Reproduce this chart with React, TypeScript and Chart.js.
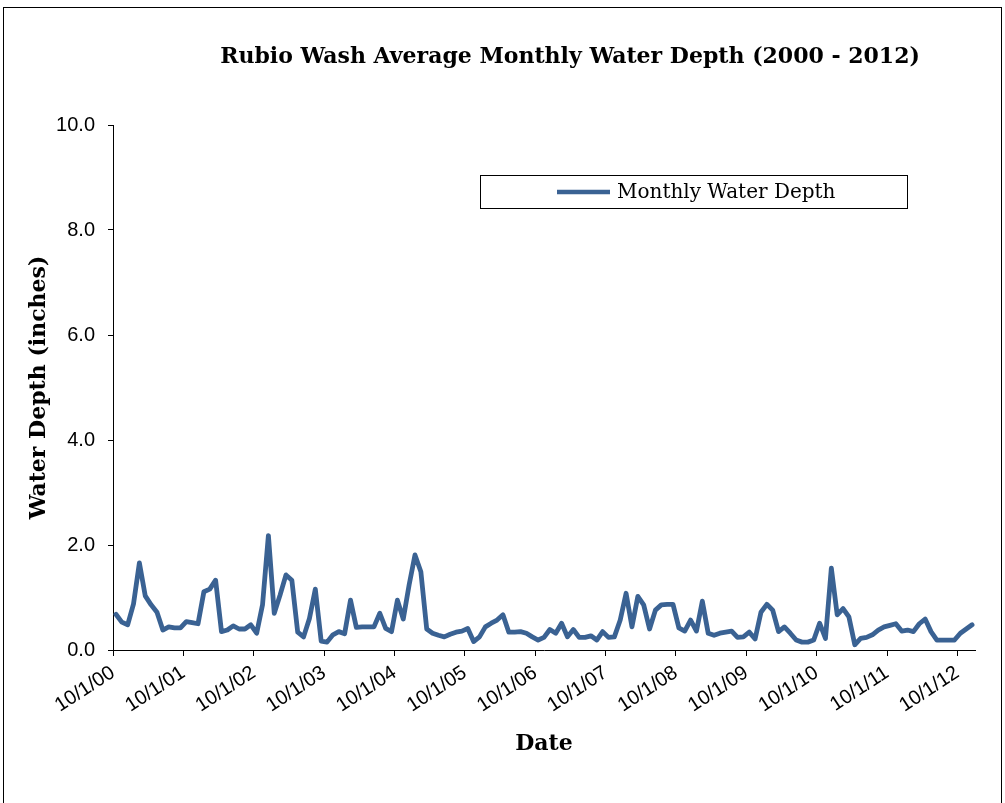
import React, { useEffect, useRef } from "react";
import { Chart, registerables } from "chart.js";

Chart.register(...registerables);

const TITLE = "Rubio Wash Average Monthly Water Depth (2000 - 2012)";
const SERIES_NAME = "Monthly Water Depth";
const X_TITLE = "Date";
const Y_TITLE = "Water Depth (inches)";

// Yearly tick labels (axis runs 10/1/00 .. 1/1/13, one unit = one month)
const xTickLabels = [
  "10/1/00", "10/1/01", "10/1/02", "10/1/03", "10/1/04", "10/1/05", "10/1/06",
  "10/1/07", "10/1/08", "10/1/09", "10/1/10", "10/1/11", "10/1/12",
];

// Monthly average water depth (inches), Oct 2000 .. Dec 2012
const depth = [
  0.68, 0.53, 0.48, 0.88, 1.66, 1.03, 0.86, 0.72, 0.38, 0.44, 0.42, 0.42,
  0.54, 0.52, 0.50, 1.11, 1.16, 1.33, 0.35, 0.38, 0.46, 0.40, 0.40, 0.48,
  0.32, 0.86, 2.18, 0.70, 1.05, 1.43, 1.33, 0.34, 0.25, 0.60, 1.16, 0.17,
  0.15, 0.29, 0.35, 0.31, 0.95, 0.43, 0.44, 0.44, 0.44, 0.70, 0.41, 0.35,
  0.95, 0.59, 1.24, 1.81, 1.49, 0.40, 0.32, 0.28, 0.25, 0.30, 0.34, 0.36,
  0.41, 0.16, 0.25, 0.44, 0.51, 0.57, 0.67, 0.34, 0.34, 0.35, 0.32, 0.25,
  0.19, 0.24, 0.39, 0.32, 0.51, 0.25, 0.39, 0.24, 0.24, 0.27, 0.19, 0.35,
  0.24, 0.25, 0.57, 1.08, 0.44, 1.02, 0.86, 0.40, 0.76, 0.86, 0.87, 0.87,
  0.42, 0.36, 0.57, 0.36, 0.93, 0.32, 0.28, 0.32, 0.34, 0.36, 0.24, 0.25,
  0.34, 0.21, 0.72, 0.87, 0.76, 0.35, 0.44, 0.32, 0.19, 0.15, 0.15, 0.19,
  0.51, 0.22, 1.56, 0.67, 0.79, 0.63, 0.10, 0.22, 0.24, 0.29, 0.38, 0.44,
  0.47, 0.50, 0.36, 0.38, 0.35, 0.50, 0.59, 0.35, 0.19, 0.19, 0.19, 0.19,
  0.32, 0.40, 0.48,
];

const LINE_COLOR = "#3a6293";
const SERIF = '"DejaVu Serif", serif';
const SANS = '"Liberation Sans", Arial, sans-serif';

const decorPlugin = {
  id: "decor",
  afterDraw(chart: any) {
    const ctx = chart.ctx as CanvasRenderingContext2D;
    ctx.save();
    // Title
    ctx.fillStyle = "#000";
    ctx.font = `bold 22px ${SERIF}`;
    ctx.textAlign = "center";
    ctx.textBaseline = "middle";
    ctx.fillText(TITLE, 570, 57);
    // Legend box
    ctx.strokeStyle = "#000";
    ctx.lineWidth = 1;
    ctx.strokeRect(480.5, 175.5, 427, 33);
    ctx.strokeStyle = LINE_COLOR;
    ctx.lineWidth = 4.5;
    ctx.lineCap = "butt";
    ctx.beginPath();
    ctx.moveTo(557, 192);
    ctx.lineTo(610, 192);
    ctx.stroke();
    ctx.font = `20px ${SERIF}`;
    ctx.textAlign = "left";
    ctx.fillStyle = "#000";
    ctx.fillText(SERIES_NAME, 617, 193);
    ctx.restore();
  },
};

export default function App() {
  const ref = useRef<HTMLCanvasElement | null>(null);

  useEffect(() => {
    if (!ref.current) return;
    const points = depth.map((v, i) => ({ x: i + 0.5, y: v }));
    const chart = new Chart(ref.current, {
      type: "line",
      data: {
        datasets: [
          {
            label: SERIES_NAME,
            data: points,
            borderColor: LINE_COLOR,
            backgroundColor: LINE_COLOR,
            borderWidth: 4.8,
            pointRadius: 0,
            tension: 0,
            borderJoinStyle: "round",
            borderCapStyle: "round",
          },
        ],
      },
      options: {
        responsive: false,
        animation: false,
        devicePixelRatio: 1,
        layout: { padding: { top: 125, right: 30, left: 0, bottom: 0 } },
        plugins: {
          legend: { display: false },
          title: { display: false },
          tooltip: { enabled: false },
        },
        scales: {
          x: {
            type: "linear",
            min: 0,
            max: 147,
            afterBuildTicks: (scale: any) => {
              scale.ticks = xTickLabels.map((_, k) => ({ value: k * 12 }));
            },
            afterFit: (scale: any) => {
              scale.height = 153;
            },
            grid: {
              drawOnChartArea: false,
              drawTicks: true,
              tickLength: 6,
              color: "#000",
            },
            border: { color: "#000", width: 1 },
            ticks: {
              autoSkip: false,
              minRotation: 33,
              maxRotation: 33,
              padding: 5,
              color: "#000",
              font: { family: SANS, size: 20 },
              callback: (v: any) => xTickLabels[Math.round(Number(v) / 12)] ?? "",
            },
            title: {
              display: true,
              text: X_TITLE,
              color: "#000",
              font: { family: SERIF, size: 22, weight: "bold" },
              padding: { top: 0, bottom: 46 },
            },
          },
          y: {
            type: "linear",
            min: 0,
            max: 10,
            afterFit: (scale: any) => {
              scale.width = 113;
            },
            grid: {
              drawOnChartArea: false,
              drawTicks: true,
              tickLength: 5,
              color: "#000",
            },
            border: { color: "#000", width: 1 },
            ticks: {
              stepSize: 2,
              padding: 13,
              color: "#000",
              font: { family: SANS, size: 20 },
              callback: (v: any) => Number(v).toFixed(1),
            },
            title: {
              display: true,
              text: Y_TITLE,
              color: "#000",
              font: { family: SERIF, size: 22, weight: "bold" },
              padding: { top: 26, bottom: 0 },
            },
          },
        },
      },
      plugins: [decorPlugin],
    } as any);
    return () => chart.destroy();
  }, []);

  return (
    <div style={{ position: "fixed", left: 0, top: 0, width: 1005, height: 803, background: "#fff" }}>
      <canvas ref={ref} width={1005} height={803} style={{ display: "block" }} />
      <div
        style={{
          position: "absolute",
          left: 3,
          top: 7,
          width: 997,
          height: 820,
          border: "1px solid #000",
          pointerEvents: "none",
        }}
      />
    </div>
  );
}
